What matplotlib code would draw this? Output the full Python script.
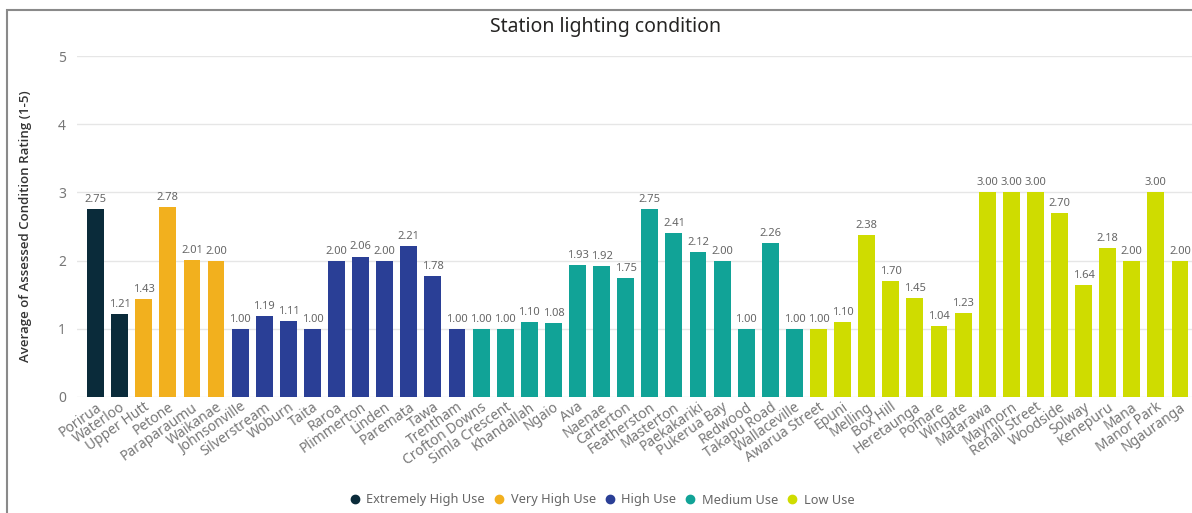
import matplotlib
matplotlib.use("Agg")
import matplotlib.pyplot as plt
from matplotlib.lines import Line2D
from matplotlib.patches import Rectangle

plt.rcParams["font.family"] = ["Noto Sans", "DejaVu Sans"]

stations = ["Porirua", "Waterloo",
            "Upper Hutt", "Petone", "Paraparaumu", "Waikanae",
            "Johnsonville", "Silverstream", "Woburn", "Taita", "Raroa", "Plimmerton",
            "Linden", "Paremata", "Tawa", "Trentham",
            "Crofton Downs", "Simla Crescent", "Khandallah", "Ngaio", "Ava", "Naenae",
            "Carterton", "Featherston", "Masterton", "Paekakariki", "Pukerua Bay",
            "Redwood", "Takapu Road", "Wallaceville",
            "Awarua Street", "Epuni", "Melling", "Box Hill", "Heretaunga", "Pomare",
            "Wingate", "Matarawa", "Maymorn", "Renall Street", "Woodside", "Solway",
            "Kenepuru", "Mana", "Manor Park", "Ngauranga"]
ratings = [2.75, 1.21,
           1.43, 2.78, 2.01, 2.00,
           1.00, 1.19, 1.11, 1.00, 2.00, 2.06, 2.00, 2.21, 1.78, 1.00,
           1.00, 1.00, 1.10, 1.08, 1.93, 1.92, 1.75, 2.75, 2.41, 2.12, 2.00,
           1.00, 2.26, 1.00,
           1.00, 1.10, 2.38, 1.70, 1.45, 1.04, 1.23, 3.00, 3.00, 3.00, 2.70,
           1.64, 2.18, 2.00, 3.00, 2.00]
usage = (["Extremely High Use"] * 2 + ["Very High Use"] * 4 + ["High Use"] * 10
         + ["Medium Use"] * 14 + ["Low Use"] * 16)

usage_levels = ["Extremely High Use", "Very High Use", "High Use", "Medium Use", "Low Use"]
usage_colors = {
    "Extremely High Use": "#0a2b3a",
    "Very High Use": "#f2b01e",
    "High Use": "#2a3f96",
    "Medium Use": "#11a397",
    "Low Use": "#cfdc00",
}

fig = plt.figure(figsize=(11.92, 5.13), dpi=100)
ax = fig.add_axes([77 / 1192, 1 - 397 / 513, 1 - 77 / 1192, (397 - 56) / 513])

x = range(len(stations))
ax.bar(x, ratings, width=0.7, color=[usage_colors[u] for u in usage], zorder=3)
for xi, v in zip(x, ratings):
    ax.text(xi, v + 0.06, f"{v:.2f}", ha="center", va="bottom",
            fontsize=8, color="#666666")

ax.set_xlim(-0.77, 45.5)
ax.set_ylim(0, 5)
ax.set_yticks(range(6))
ax.grid(axis="y", color="#e6e6e6", linewidth=1, zorder=0)
for s in ax.spines.values():
    s.set_visible(False)
ax.tick_params(axis="both", length=0, labelsize=10, labelcolor="#777777")
ax.tick_params(axis="y", pad=8)
ax.tick_params(axis="x", pad=2)
ax.set_xticks(list(x))
ax.set_xticklabels(stations, rotation=35, ha="right", rotation_mode="anchor")

ax.set_ylabel("Average of Assessed Condition Rating (1-5)", fontsize=9.5,
              color="#333333", fontweight="semibold", labelpad=19,
              family=["Open Sans", "DejaVu Sans"])

fig.text(0.508, 1 - 27 / 513, "Station lighting condition", ha="center",
         va="center", fontsize=14, color="#252423")

handles = [Line2D([0], [0], marker="o", linestyle="", markersize=6,
                  markerfacecolor=usage_colors[u], markeredgecolor=usage_colors[u])
           for u in usage_levels]
fig.legend(handles, usage_levels, loc="center", bbox_to_anchor=(0.504, 1 - 500 / 513),
           ncol=5, frameon=False, fontsize=9.2, labelcolor="#666666",
           handletextpad=0.3, columnspacing=0.5, handlelength=1.2)

fig.add_artist(Rectangle((7 / 1192, -0.1), 1.2, 1 - 10 / 513 + 0.1,
                         transform=fig.transFigure, fill=False,
                         edgecolor="#8a8a8a", linewidth=1.5))

fig.savefig("out.png", dpi=100)
